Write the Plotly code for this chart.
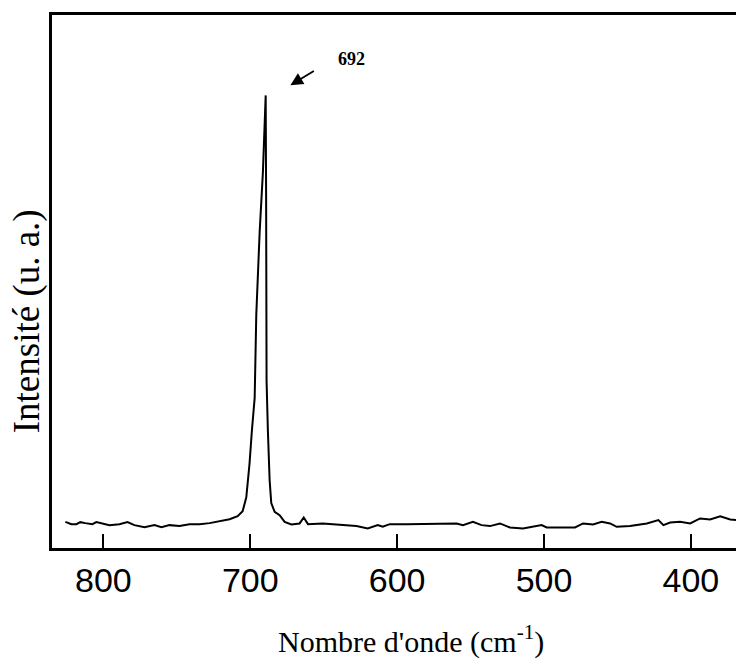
import plotly.graph_objects as go

# Raman spectrum (wavenumber cm-1, intensity u.a.)
wavenumber = [825.9, 821.8, 818.4, 815.7, 812.3, 807.5, 804.8, 800.0, 795.9, 789.1,
              783.6, 778.9, 772.0, 765.2, 760.5, 755.0, 748.2, 741.4, 734.5, 727.7,
              720.9, 714.1, 708.6, 705.2, 702.7, 700.5, 698.9, 697.0, 695.9, 693.6,
              691.4, 689.5, 689.2, 688.9, 688.0, 686.8, 685.7, 683.4, 680.0, 676.6,
              672.0, 666.4, 663.6, 660.7, 650.7, 639.1, 627.7, 620.0, 613.2, 609.8,
              605.0, 593.6, 582.5, 570.9, 559.5, 555.2, 548.4, 542.5, 536.8, 530.0,
              523.2, 514.3, 505.0, 501.6, 498.2, 478.9, 473.4, 466.6, 460.7, 455.0,
              450.5, 441.4, 430.0, 422.1, 418.7, 414.1, 407.3, 400.5, 393.7, 386.9,
              380.0, 373.2, 363.6]
intensity = [5.89, 5.37, 5.37, 5.82, 5.60, 5.37, 5.82, 5.37, 5.15, 5.37,
             5.82, 5.15, 4.70, 5.15, 4.70, 5.15, 4.93, 5.37, 5.37, 5.60,
             6.05, 6.49, 7.16, 8.28, 11.4, 19.0, 26.4, 33.8, 52.6, 71.2,
             84.6, 101.9, 78.6, 37.6, 26.4, 15.2, 10.1, 8.13, 7.39, 5.89,
             5.31, 5.53, 6.87, 5.37, 5.53, 5.15, 4.93, 4.41, 5.15, 4.77,
             5.37, 5.37, 5.37, 5.53, 5.53, 5.15, 5.89, 5.15, 4.93, 5.53,
             4.63, 4.41, 4.93, 5.15, 4.63, 4.63, 5.53, 5.31, 5.89, 5.53,
             4.77, 4.93, 5.53, 6.27, 5.15, 5.75, 5.89, 5.53, 6.65, 6.43,
             7.16, 6.43, 6.11]

tick_values = [800, 700, 600, 500, 400]
tick_labels = ["800", "700", "600", "500", "400"]
peak_label = "692"

fig = go.Figure()
fig.add_trace(go.Scatter(x=wavenumber, y=intensity, mode="lines",
                         line=dict(color="black", width=2), showlegend=False))

serif = "Liberation Serif, Times New Roman, serif"

fig.update_layout(
    width=744, height=667,
    margin=dict(l=44, r=9, t=4, b=127),
    paper_bgcolor="white", plot_bgcolor="white",
    xaxis=dict(range=[835, 364.5], tickvals=tick_values, ticktext=tick_labels,
               ticks="inside", ticklen=14, tickwidth=1.5, tickcolor="black",
               showline=True, linecolor="black", linewidth=3, mirror=True,
               showgrid=False, zeroline=False, ticklabelstandoff=0,
               tickfont=dict(family="Liberation Sans, Arial", size=34, color="black")),
    yaxis=dict(range=[0, 120], showticklabels=False, ticks="",
               showline=True, linecolor="black", linewidth=3, mirror=True,
               showgrid=False, zeroline=False),
    annotations=[
        dict(text="Nombre d'onde (cm<sup>-1</sup>)", xref="paper", yref="paper",
             x=(411 - 52) / 691, y=-(640 - 548) / 536, showarrow=False,
             xanchor="center", yanchor="middle",
             font=dict(family=serif, size=30, color="black")),
        dict(text="Intensité (u. a.)", xref="paper", yref="paper",
             x=-(52 - 27) / 691, y=(548 - 320) / 536, showarrow=False, textangle=-90,
             xanchor="center", yanchor="middle",
             font=dict(family=serif, size=37, color="black")),
        dict(text="", x=672.7, y=104.2, xref="x", yref="y", showarrow=True,
             ax=25, ay=-15, arrowhead=2, arrowsize=1.4, arrowwidth=1.8, arrowcolor="black"),
        dict(text="<b>" + peak_label + "</b>", x=630.9, y=110.2, xref="x", yref="y", showarrow=False,
             font=dict(family=serif, size=18, color="black")),
    ],
)

fig.write_html("out.html")
